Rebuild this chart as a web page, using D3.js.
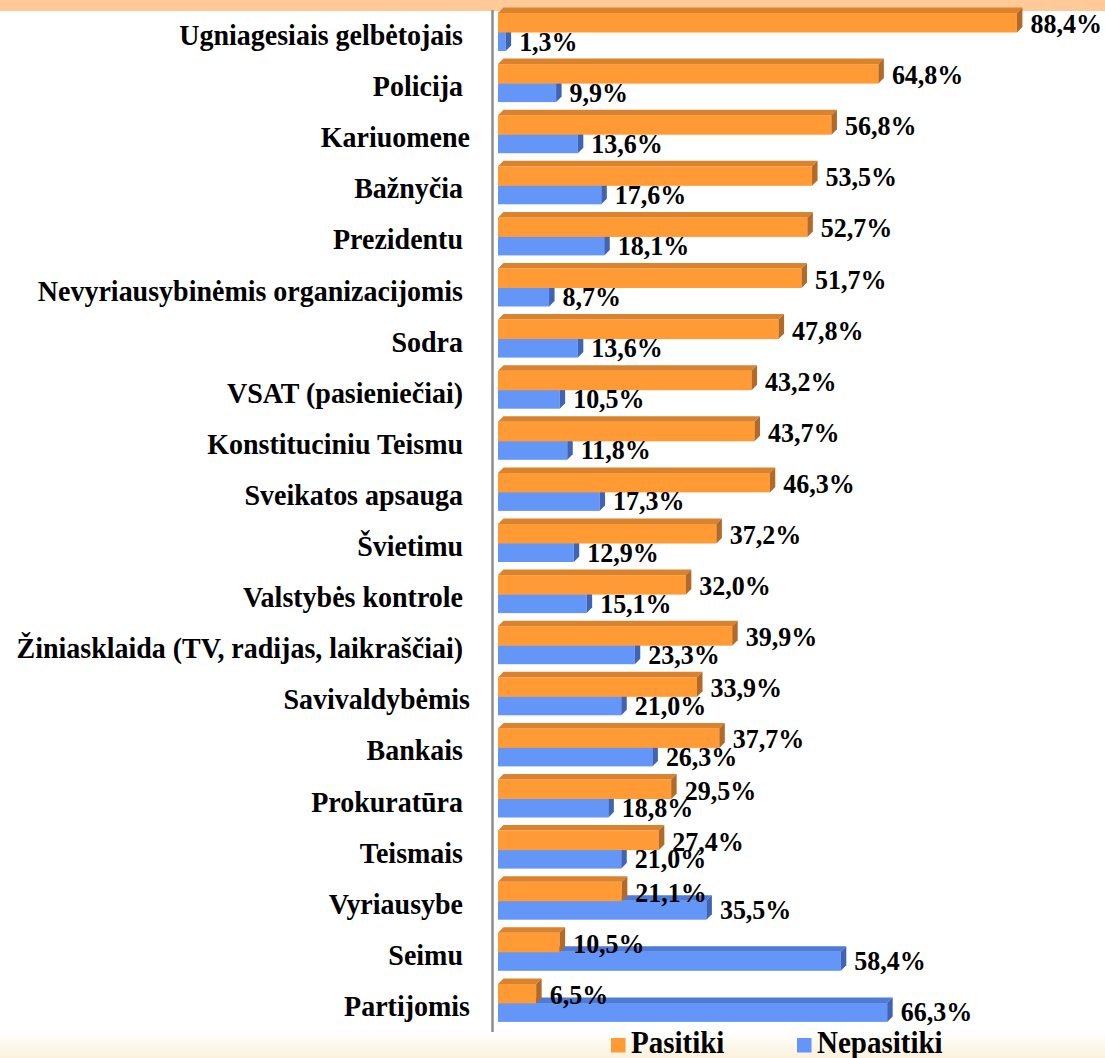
<!DOCTYPE html>
<html lang="lt">
<head>
  <meta charset="utf-8">
  <title>Pasitikėjimas institucijomis</title>
  <script src="https://d3js.org/d3.v7.min.js"></script>
  <style>
    body { margin: 0; background: #fff; }
    svg text { font-family: "Liberation Serif", "Times New Roman", serif; font-weight: bold; fill: #000; }
  </style>
</head>
<body>
  <svg width="1105" height="1058"></svg>
  <script>
    // kategorijos (tarpas gale kaip originale)
    const categories = [
      "Ugniagesiais gelbėtojais\u00A0", "Policija\u00A0", "Kariuomene", "Bažnyčia\u00A0",
      "Prezidentu\u00A0", "Nevyriausybinėmis organizacijomis\u00A0", "Sodra\u00A0",
      "VSAT (pasieniečiai)\u00A0", "Konstituciniu Teismu\u00A0", "Sveikatos apsauga\u00A0",
      "Švietimu\u00A0", "Valstybės kontrole\u00A0", "Žiniasklaida (TV, radijas, laikraščiai)\u00A0",
      "Savivaldybėmis", "Bankais\u00A0", "Prokuratūra\u00A0", "Teismais\u00A0",
      "Vyriausybe\u00A0", "Seimu\u00A0", "Partijomis"
    ];
    const pasitiki = [88.4, 64.8, 56.8, 53.5, 52.7, 51.7, 47.8, 43.2, 43.7, 46.3,
                      37.2, 32.0, 39.9, 33.9, 37.7, 29.5, 27.4, 21.1, 10.5, 6.5];
    const nepasitiki = [1.3, 9.9, 13.6, 17.6, 18.1, 8.7, 13.6, 10.5, 11.8, 17.3,
                        12.9, 15.1, 23.3, 21.0, 26.3, 18.8, 21.0, 35.5, 58.4, 66.3];
    const seriesNames = ["Pasitiki", "Nepasitiki"];

    const svg = d3.select("svg");
    const width = 1105, height = 1058;

    const rows = categories.map((c, i) => ({ cat: c, p: pasitiki[i], n: nepasitiki[i] }));

    // fonas
    const defs = svg.append("defs");
    const grad = defs.append("linearGradient").attr("id", "bottomBg")
      .attr("x1", 0).attr("y1", 0).attr("x2", 0).attr("y2", 1);
    grad.append("stop").attr("offset", "0%").attr("stop-color", "#ffffff");
    grad.append("stop").attr("offset", "100%").attr("stop-color", "#fbf1dc");
    svg.append("rect").attr("x", 0).attr("y", 1032).attr("width", width).attr("height", 26)
      .attr("fill", "url(#bottomBg)");
    svg.append("rect").attr("x", 0).attr("y", 0).attr("width", width).attr("height", 11)
      .attr("fill", "#ffca97");

    const x = d3.scaleLinear().domain([0, 100]).range([498, 1085]);
    const y = d3.scaleBand().domain(categories).range([8, 8 + 20 * 51.1]);

    const depth = 5.5;
    const stretch = 1.08; // tekstas originale šiek tiek ištemptas vertikaliai
    const colors = {
      p: { front: "#ff9a35", top: "#d9832f", side: "#b36a27" },
      n: { front: "#6396f7", top: "#4f7ad6", side: "#3f64b4" }
    };

    function bar3d(g, x0, x1, y0, h, c) {
      const y1 = y0 + h;
      g.append("rect").attr("x", x0).attr("y", y0).attr("width", x1 - x0).attr("height", h)
        .attr("fill", c.front);
      g.append("path")
        .attr("d", `M${x0},${y0}L${x0 + depth},${y0 - depth}L${x1 + depth},${y0 - depth}L${x1},${y0}Z`)
        .attr("fill", c.top);
      g.append("path")
        .attr("d", `M${x1},${y0}L${x1 + depth},${y0 - depth}L${x1 + depth},${y1 - depth}L${x1},${y1}Z`)
        .attr("fill", c.side);
    }

    function place(tx, ty) {
      return `translate(${tx},${ty}) scale(1,${stretch})`;
    }

    // ašis
    svg.append("line")
      .attr("x1", 492.5).attr("x2", 492.5).attr("y1", 10).attr("y2", 1032)
      .attr("stroke", "#8c8c8c").attr("stroke-width", 2.5);

    const groups = svg.selectAll("g.row").data(rows).enter().append("g").attr("class", "row");

    // pirma mėlyna, tada oranžinė ant viršaus
    groups.each(function(d) {
      bar3d(d3.select(this), x(0), x(d.n), y(d.cat) + 24, 19, colors.n);
    });
    groups.each(function(d) {
      bar3d(d3.select(this), x(0), x(d.p), y(d.cat) + 5, 19.5, colors.p);
    });

    const fmt = v => v.toFixed(1).replace(".", ",") + "%";

    groups.append("text")
      .attr("transform", d => place(x(d.p) + depth + 8, y(d.cat) + 25))
      .attr("font-size", 26)
      .text(d => fmt(d.p));
    groups.append("text")
      .attr("transform", d => place(x(d.n) + depth + 8, y(d.cat) + 42.5))
      .attr("font-size", 26)
      .text(d => fmt(d.n));

    // kategorijų pavadinimai
    groups.append("text")
      .attr("transform", d => place(470, y(d.cat) + 37))
      .attr("text-anchor", "end")
      .attr("font-size", 28)
      .text(d => d.cat);

    // legenda
    const legend = svg.append("g");
    const legItems = [
      { name: seriesNames[0], color: colors.p.front, x: 611 },
      { name: seriesNames[1], color: colors.n.front, x: 797 }
    ];
    legItems.forEach(it => {
      legend.append("rect").attr("x", it.x).attr("y", 1038).attr("width", 14.5).attr("height", 14.5)
        .attr("fill", it.color);
      legend.append("text").attr("transform", place(it.x + 20, 1053))
        .attr("font-size", 29).text(it.name);
    });
  </script>
</body>
</html>
